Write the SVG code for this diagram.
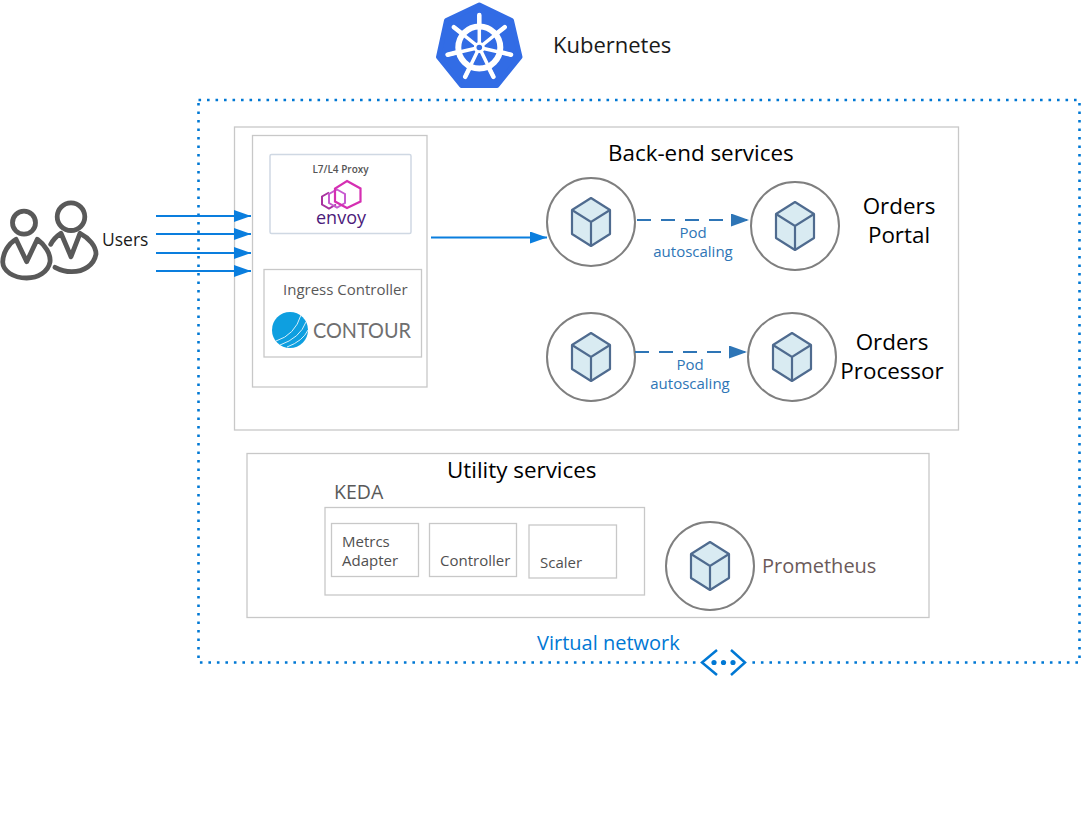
<svg xmlns="http://www.w3.org/2000/svg" width="1081" height="827" viewBox="0 0 1081 827">
<style>
text{font-family:"Open Sans","Noto Sans","Liberation Sans",sans-serif}
.box{fill:#fff;stroke:#c8c8c8;stroke-width:1.3}
.t24{font-size:22.4px;fill:#000}
.t16{font-size:15px;fill:#505050}
.pod{font-size:15px;fill:#2e75b6;text-anchor:middle}
.circ{fill:#fff;stroke:#7f7f7f;stroke-width:2}
.flow{stroke:#0a7ede;stroke-width:2;fill:none}
.auto{stroke:#2e75b6;stroke-width:2.2;fill:none;stroke-dasharray:14 10}
.usr{fill:none;stroke:#595959;stroke-width:4.800;stroke-linejoin:round;stroke-linecap:round}
</style>
<defs>
<marker id="ah" markerUnits="userSpaceOnUse" markerWidth="18" markerHeight="14" refX="17" refY="6" orient="auto"><path d="M0 0L17 6L0 12Z" fill="#0a7ede"/></marker>
<marker id="ah2" markerUnits="userSpaceOnUse" markerWidth="19" markerHeight="14" refX="18" refY="6.5" orient="auto"><path d="M0 0L18 6.5L0 13Z" fill="#2e75b6"/></marker>
<g id="cube">
<path d="M0-24L19-12V12L0 24L-19 12V-12Z" fill="#d9ebf2" stroke="#4f6b8f" stroke-width="2.2" stroke-linejoin="round"/>
<path d="M-19-12L0 0L19-12M0 0V24" fill="none" stroke="#4f6b8f" stroke-width="2.2"/>
</g>
</defs>
<g id="kubernetes">
<path d="M479.300 5L511.500 20.500L520 57L497 85.500H461.500L438.500 57L446.500 20.500Z" fill="#326ce5" stroke="#326ce5" stroke-width="5" stroke-linejoin="round"/>
<g stroke="#fff" fill="none" stroke-linecap="round">
<circle cx="479.300" cy="47.500" r="21" stroke-width="6"/>
<path stroke-width="3.500" d="M479.300 47.500V15M479.300 47.500L504.700 27.200M479.300 47.500L511 54.700M479.300 47.500L493.400 76.800M479.300 47.500L465.200 76.800M479.300 47.500L447.600 54.700M479.300 47.500L453.900 27.200"/>
<path stroke-width="4.500" d="M479.300 15V26M504.700 27.200L496 34M511 54.700L500 52M493.400 76.800L488.500 67M465.200 76.800L470 67M447.600 54.700L458.500 52M453.900 27.200L462.500 34"/>
</g>
<circle cx="479.300" cy="47.500" r="5.500" fill="#fff"/>
<circle cx="479.300" cy="47.500" r="2.800" fill="#326ce5"/>
<text x="553" y="53" font-size="22" fill="#1a1a1a">Kubernetes</text>
</g>
<g id="virtual-network">
<rect x="198.500" y="100" width="881" height="562.500" fill="none" stroke="#0078d4" stroke-width="2.600" stroke-dasharray="2.600 5.900"/>
<rect x="697" y="655" width="52" height="16" fill="#fff"/>
<path d="M717 650L702 662.500L717 675M731 650L745 662.500L731 675" fill="none" stroke="#0078d4" stroke-width="2.500"/>
<g fill="#0078d4"><circle cx="714" cy="662.500" r="2.600"/><circle cx="723.500" cy="662.500" r="2.600"/><circle cx="733" cy="662.500" r="2.600"/></g>
<text x="537" y="650" font-size="20" fill="#0078d4">Virtual network</text>
</g>
<g id="backend">
<rect class="box" x="234.500" y="127" width="724" height="303"/>
<text class="t24" x="608" y="161">Back-end services</text>
</g>
<g id="ingress">
<rect class="box" x="252.500" y="135.500" width="174.500" height="251.500"/>
</g>
<g id="envoy">
<rect x="270" y="154.500" width="141" height="79" rx="1.500" fill="#fff" stroke="#cfd8e3" stroke-width="1.500"/>
<text x="340.500" y="173" font-size="10" font-weight="600" fill="#555" text-anchor="middle">L7/L4 Proxy</text>
<path d="M329 192.500L322 196.500V204.500L329 208.500L336 204.500" fill="none" stroke="#a8329f" stroke-width="2"/>
<path d="M337 189.500L345 194V203L337 207.500L329 203V194Z" fill="none" stroke="#c75bd0" stroke-width="2"/>
<path d="M347 181L360.500 188.500V201.500L347 208L335 201.500V188.500Z" fill="none" stroke="#d52fb2" stroke-width="2.200"/>
<text x="341" y="224" font-size="18" fill="#4b1a7a" text-anchor="middle">envoy</text>
</g>
<g id="contour">
<rect class="box" x="264" y="269.500" width="157.500" height="87.500"/>
<text x="283" y="295" font-size="15" fill="#595959">Ingress Controller</text>
<circle cx="290" cy="330" r="18" fill="#0e9fe0"/>
<path d="M276 341Q295 335 301 315M280 345Q300 338 306 322M287 347Q303 341 308 330" fill="none" stroke="#d5eefa" stroke-width="1"/>
<text x="313" y="338" font-size="21" fill="#6f6f6f" textLength="98" lengthAdjust="spacingAndGlyphs" style="font-family:Lato,'Open Sans',sans-serif">CONTOUR</text>
</g>
<g id="users">
<circle cx="24" cy="222.700" r="11.500" class="usr"/>
<circle cx="71" cy="216.700" r="13.800" class="usr"/>
<path class="usr" d="M16 239.300L26.700 261.700L37.300 239.300C45 245 51 254 50 262C48 272 38 278 26.700 278C13 278 3 271 2.700 262C3 253 8 244 16 239.300Z"/>
<path class="usr" d="M50.700 244.300C53 240 57 236 61 233.300L71 256.700L80 233.300C89 238 96 246 96 254C94 265 84 271.700 71.700 271.700C65 271.700 60 270 55 267.300"/>
<text x="102" y="246" font-size="17.500" fill="#1a1a1a">Users</text>
</g>
<g id="pod-portal-1"><circle class="circ" cx="591" cy="222" r="44"/><use href="#cube" x="591" y="222"/></g>
<g id="pod-portal-2"><circle class="circ" cx="795" cy="226" r="44"/><use href="#cube" x="795" y="226"/></g>
<g id="pod-processor-1"><circle class="circ" cx="591" cy="357" r="44"/><use href="#cube" x="591" y="357"/></g>
<g id="pod-processor-2"><circle class="circ" cx="792" cy="357" r="44"/><use href="#cube" x="792" y="357"/></g>
<g id="labels">
<text class="t24" x="899" y="214" text-anchor="middle">Orders</text>
<text class="t24" x="899" y="243" text-anchor="middle">Portal</text>
<text class="t24" x="892" y="350" text-anchor="middle">Orders</text>
<text class="t24" x="892" y="379" text-anchor="middle">Processor</text>
<text class="pod" x="693" y="238">Pod</text>
<text class="pod" x="693" y="257">autoscaling</text>
<text class="pod" x="690" y="370">Pod</text>
<text class="pod" x="690" y="389">autoscaling</text>
</g>
<g id="utility">
<rect class="box" x="247" y="453.500" width="682" height="164"/>
<text class="t24" x="447" y="478">Utility services</text>
</g>
<g id="keda">
<rect class="box" x="325" y="507.500" width="319.500" height="87.500"/>
<text x="334" y="499" font-size="19.500" fill="#595959">KEDA</text>
</g>
<g id="metrics-adapter">
<rect class="box" x="331.500" y="523.500" width="87" height="53"/>
<text class="t16" x="342" y="547">Metrcs</text>
<text class="t16" x="342" y="566">Adapter</text>
</g>
<g id="controller">
<rect class="box" x="429.500" y="523.500" width="87" height="53"/>
<text class="t16" x="440" y="566">Controller</text>
</g>
<g id="scaler">
<rect class="box" x="529" y="525" width="87.500" height="53"/>
<text class="t16" x="540" y="568">Scaler</text>
</g>
<g id="prometheus">
<circle class="circ" cx="710" cy="566" r="44"/><use href="#cube" x="710" y="566"/>
<text x="762" y="573" font-size="20" fill="#6b5a5a">Prometheus</text>
</g>
<g id="connectors">
<path class="flow" d="M156 216H251" marker-end="url(#ah)"/>
<path class="flow" d="M156 234H251" marker-end="url(#ah)"/>
<path class="flow" d="M156 253H251" marker-end="url(#ah)"/>
<path class="flow" d="M156 271H251" marker-end="url(#ah)"/>
<path class="flow" d="M431 237.500H547" marker-end="url(#ah)"/>
<path class="auto" d="M637 220H749" marker-end="url(#ah2)"/>
<path class="auto" d="M635 352H747" marker-end="url(#ah2)"/>
</g>
</svg>
